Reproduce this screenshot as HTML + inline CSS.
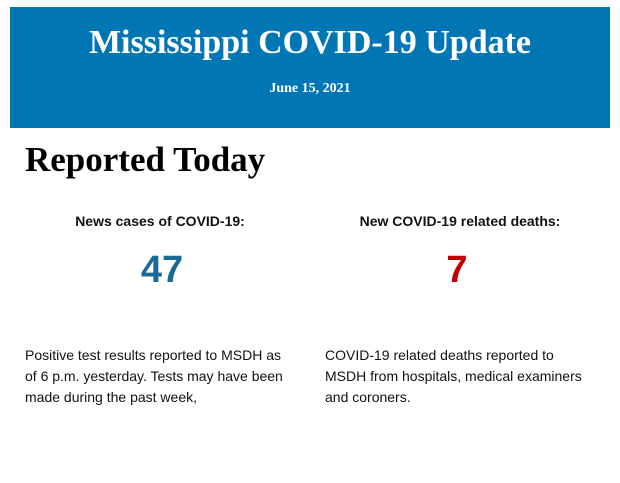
<!DOCTYPE html>
<html><head><style>
body{margin:0;width:620px;height:483px;background:#fff;position:relative;overflow:hidden}
.ban{position:absolute;left:10px;top:7px;width:600px;height:121px;background:#0077b4;color:#fff;font-family:"Liberation Serif",serif;font-weight:bold;text-align:center}
.t{position:absolute;left:0;right:0;top:16px;font-size:34px;line-height:40px}
.d{position:absolute;left:0;right:0;top:73px;font-size:14px;line-height:18px}
h1{position:absolute;left:25px;top:139px;margin:0;font-family:"Liberation Serif",serif;font-size:35px;line-height:42px;font-weight:bold;color:#000}
.lab{position:absolute;top:212px;width:300px;text-align:center;font:bold 14px/18px "Liberation Sans",sans-serif;color:#111}
.num{position:absolute;top:248px;width:300px;text-align:center;font:bold 38px/44px "Liberation Sans",sans-serif}
.p{position:absolute;top:345px;font:14px/21px "Liberation Sans",sans-serif;color:#111}
</style></head><body>
<div class="ban"><div class="t">Mississippi COVID-19 Update</div><div class="d">June 15, 2021</div></div>
<h1>Reported Today</h1>
<div class="lab" style="left:10px">News cases of COVID-19:</div>
<div class="lab" style="left:310px">New COVID-19 related deaths:</div>
<div class="num" style="left:12px;color:#1a6a99">47</div>
<div class="num" style="left:307px;color:#c00000">7</div>
<div class="p" style="left:25px;width:262px">Positive test results reported to MSDH as of 6 p.m. yesterday. Tests may have been made during the past week,</div>
<div class="p" style="left:325px;width:262px">COVID-19 related deaths reported to MSDH from hospitals, medical examiners and coroners.</div>
</body></html>
